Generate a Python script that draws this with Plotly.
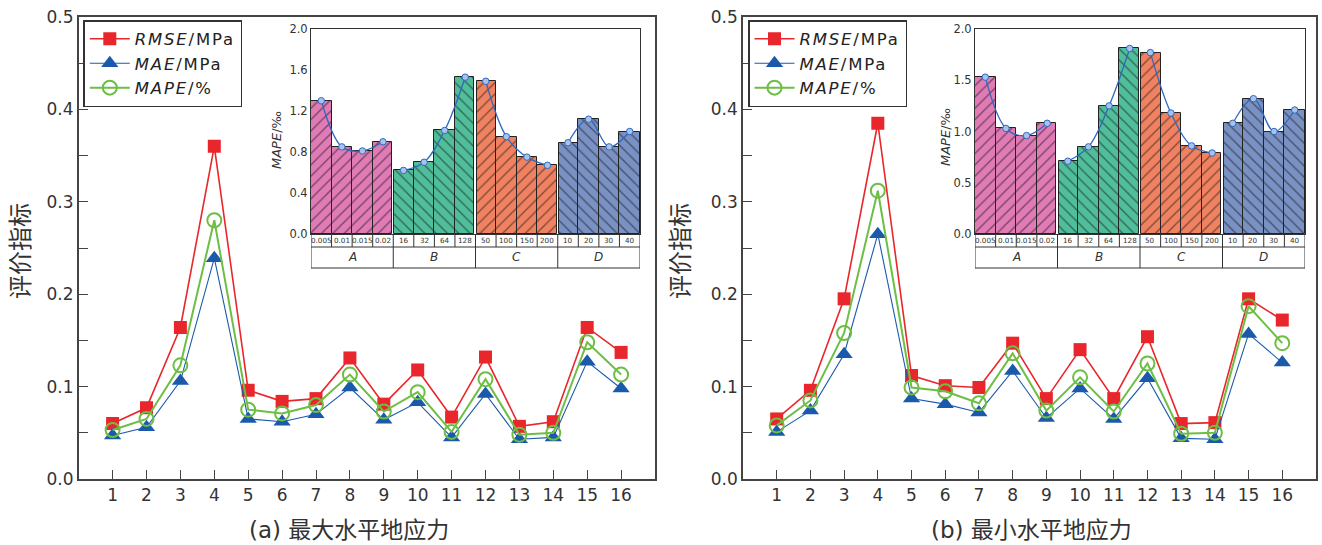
import plotly.graph_objects as go

# ---------------- data ----------------
x_idx = list(range(1, 17))

rmse_a = [0.060, 0.077, 0.164, 0.360, 0.096, 0.084, 0.087, 0.131, 0.081, 0.118, 0.067, 0.132, 0.057, 0.062, 0.164, 0.137]
mae_a  = [0.047, 0.056, 0.106, 0.239, 0.065, 0.062, 0.070, 0.099, 0.064, 0.083, 0.045, 0.092, 0.043, 0.045, 0.127, 0.098]
mape_a = [0.053, 0.065, 0.123, 0.280, 0.075, 0.071, 0.080, 0.113, 0.073, 0.094, 0.051, 0.108, 0.048, 0.050, 0.148, 0.113]

rmse_b = [0.065, 0.096, 0.195, 0.385, 0.112, 0.101, 0.099, 0.147, 0.087, 0.140, 0.087, 0.154, 0.060, 0.061, 0.195, 0.172]
mae_b  = [0.051, 0.074, 0.135, 0.265, 0.087, 0.081, 0.072, 0.117, 0.066, 0.098, 0.065, 0.109, 0.044, 0.043, 0.157, 0.126]
mape_b = [0.058, 0.085, 0.158, 0.312, 0.099, 0.095, 0.082, 0.136, 0.074, 0.110, 0.073, 0.125, 0.049, 0.050, 0.187, 0.147]

groups = ["A", "B", "C", "D"]
sub_labels = ["0.005", "0.01", "0.015", "0.02", "16", "32", "64", "128",
              "50", "100", "150", "200", "10", "20", "30", "40"]
inset_a = [1.30, 0.85, 0.81, 0.90, 0.62, 0.70, 1.01, 1.53, 1.49, 0.95, 0.75, 0.67, 0.89, 1.12, 0.85, 1.00]
inset_b = [1.53, 1.03, 0.96, 1.08, 0.71, 0.85, 1.25, 1.81, 1.77, 1.18, 0.86, 0.79, 1.08, 1.32, 1.00, 1.21]

series_names = ["<i>RMSE</i>/MPa", "<i>MAE</i>/MPa", "<i>MAPE</i>/%"]

group_colors = ["#E07BB6", "#50BE9B", "#F08262", "#7A91C3"]
group_hatch = ["/", "\\", "/", "\\"]

# ---------------- geometry ----------------
W, H = 1322, 545
def px(x): return x / W
def py(y): return 1 - y / H

FONT = "DejaVu Sans, Liberation Sans, Arial, sans-serif"
CJK = "DejaVu Sans, Noto Sans CJK SC, sans-serif"
AX = "#444444"
TXT = "#333333"

main_dom = {"a": (78.7, 655), "b": (743, 1316)}
main_y = (17, 479)
inset_dom = {"a": (311, 640), "b": (975, 1305)}
inset_y = (29, 234)
row1_bottom, row2_bottom = 247, 268

def spaced(t):
    return '<span style="letter-spacing:1.8px">%s</span>' % t

fig = go.Figure()

# ---------------- main line charts ----------------
panels = [("a", rmse_a, mae_a, mape_a, "x", "y", "legend"),
          ("b", rmse_b, mae_b, mape_b, "x2", "y2", "legend2")]
for key, r, m, p, xa, ya, lg in panels:
    fig.add_trace(go.Scatter(x=x_idx, y=r, xaxis=xa, yaxis=ya, legend=lg, mode="lines+markers",
                             name=spaced(series_names[0]),
                             line=dict(color="#E8262B", width=1.6),
                             marker=dict(symbol="square", size=13, color="#E8262B")))
    fig.add_trace(go.Scatter(x=x_idx, y=m, xaxis=xa, yaxis=ya, legend=lg, mode="lines+markers",
                             name=spaced(series_names[1]),
                             line=dict(color="#1B5AAB", width=1.1),
                             marker=dict(symbol="triangle-up", size=15, color="#1B5AAB")))
    fig.add_trace(go.Scatter(x=x_idx, y=p, xaxis=xa, yaxis=ya, legend=lg, mode="lines+markers",
                             name=spaced(series_names[2]),
                             line=dict(color="#6DBE45", width=2),
                             marker=dict(symbol="circle-open", size=14, color="#6DBE45",
                                         line=dict(width=2, color="#6DBE45"))))

# ---------------- insets ----------------
gap = 0.05
for key, vals, xa, ya in [("a", inset_a, "x3", "y3"), ("b", inset_b, "x4", "y4")]:
    for g in range(4):
        xs, ws, offs, ys = [], [], [], []
        for k in range(4):
            i = g * 4 + k
            left = i + (gap if (k == 0 and g > 0) else 0)
            right = i + 1 - (gap if (k == 3 and g < 3) else 0)
            xs.append(i + 0.5)
            offs.append(left - (i + 0.5))
            ws.append(right - left)
            ys.append(vals[i])
        fig.add_trace(go.Bar(x=xs, y=ys, width=ws, offset=offs, xaxis=xa, yaxis=ya,
                             showlegend=False,
                             marker=dict(color=group_colors[g],
                                         line=dict(color="#222222", width=1),
                                         pattern=dict(shape=group_hatch[g], fgcolor="#111111",
                                                      size=8, solidity=0.17))))
    lx, ly = [], []
    for g in range(4):
        for k in range(4):
            i = g * 4 + k
            lx.append(i + 0.5)
            ly.append(vals[i])
        lx.append(None)
        ly.append(None)
    fig.add_trace(go.Scatter(x=lx, y=ly, xaxis=xa, yaxis=ya, mode="lines+markers",
                             showlegend=False, connectgaps=False,
                             line=dict(color="#2F68BE", width=1.3, shape="spline", smoothing=1),
                             marker=dict(symbol="circle", size=6.5, color="#A9C2EA",
                                         line=dict(color="#2F68BE", width=1))))

# ---------------- layout ----------------
def main_x(dom, anchor):
    return dict(domain=[px(dom[0]), px(dom[1])], range=[0, 17], tickmode="array",
                tickvals=x_idx, ticktext=[str(v) for v in x_idx], anchor=anchor,
                ticks="inside", ticklen=9, tickwidth=1.3, tickcolor=AX,
                showline=True, linecolor=AX, linewidth=1.6, mirror=True,
                showgrid=False, zeroline=False, automargin=False,
                tickfont=dict(family=FONT, size=17, color=TXT))

def main_yax(anchor):
    return dict(domain=[py(main_y[1]), py(main_y[0])], range=[0, 0.5], dtick=0.1,
                tickformat=".1f", anchor=anchor,
                ticks="inside", ticklen=9, tickwidth=1.3, tickcolor=AX,
                minor=dict(dtick=0.05, ticks="inside", ticklen=9, tickwidth=1.3, tickcolor=AX),
                showline=True, linecolor=AX, linewidth=1.6, mirror=True,
                showgrid=False, zeroline=False, automargin=False,
                tickfont=dict(family=FONT, size=17, color=TXT))

def inset_x(dom, anchor):
    return dict(domain=[px(dom[0]), px(dom[1])], range=[0, 16], anchor=anchor,
                showticklabels=False, ticks="", showline=True, linecolor="#333",
                linewidth=1, mirror=True, showgrid=False, zeroline=False, automargin=False)

def inset_yax(anchor, dt):
    return dict(domain=[py(inset_y[1]), py(inset_y[0])], range=[0, 2.0], dtick=dt,
                tickformat=".1f", anchor=anchor, ticks="",
                showline=True, linecolor="#333", linewidth=1, mirror=True,
                showgrid=False, zeroline=False, automargin=False,
                tickfont=dict(family=FONT, size=11.5, color=TXT))

legend_common = dict(bgcolor="white", bordercolor="#333", borderwidth=1.5,
                     font=dict(family=FONT, size=16.5, color="#222"),
                     xanchor="left", yanchor="top", itemwidth=40,
                     tracegroupgap=0)

fig.update_layout(
    width=W, height=H, margin=dict(l=0, r=0, t=0, b=0, autoexpand=False),
    paper_bgcolor="white", plot_bgcolor="white",
    font=dict(family=FONT, color=TXT),
    bargap=0,
    xaxis=main_x(main_dom["a"], "y"), yaxis=main_yax("x"),
    xaxis2=main_x(main_dom["b"], "y2"), yaxis2=main_yax("x2"),
    xaxis3=inset_x(inset_dom["a"], "y3"), yaxis3=inset_yax("x3", 0.4),
    xaxis4=inset_x(inset_dom["b"], "y4"), yaxis4=inset_yax("x4", 0.5),
    legend=dict(x=px(83.3), y=py(20), **legend_common),
    legend2=dict(x=px(748), y=py(20), **legend_common),
)

shapes, annotations = [], []

# inset tables below the insets
for xa in ("x3", "x4"):
    line = dict(color="#333", width=1)
    for yy in (row1_bottom, row2_bottom):
        shapes.append(dict(type="line", xref=xa, yref="paper", x0=0, x1=16,
                           y0=py(yy), y1=py(yy), line=line))
    for i in range(17):
        shapes.append(dict(type="line", xref=xa, yref="paper", x0=i, x1=i,
                           y0=py(inset_y[1]), y1=py(row1_bottom), line=line))
    for i in range(0, 17, 4):
        shapes.append(dict(type="line", xref=xa, yref="paper", x0=i, x1=i,
                           y0=py(row1_bottom), y1=py(row2_bottom), line=line))
    for i, lab in enumerate(sub_labels):
        annotations.append(dict(x=i + 0.5, y=py((inset_y[1] + row1_bottom) / 2 + 0.5), xref=xa,
                                yref="paper", text=lab, showarrow=False,
                                font=dict(family=FONT, size=7.2, color=TXT)))
    for g, lab in enumerate(groups):
        annotations.append(dict(x=g * 4 + 2, y=py((row1_bottom + row2_bottom) / 2), xref=xa,
                                yref="paper", text="<i>%s</i>" % lab, showarrow=False,
                                font=dict(family=FONT, size=12, color=TXT)))

# axis titles
titles = [
    (21, 251, "评价指标", -90, 24, CJK),
    (681, 251, "评价指标", -90, 24, CJK),
    (348.5, 530, "(a) 最大水平地应力", 0, 23, CJK),
    (1031, 530, "(b) 最小水平地应力", 0, 23, CJK),
    (276, 140, "<i>MAPE</i>/‰", -90, 13, FONT),
    (946, 137, "<i>MAPE</i>/‰", -90, 13, FONT),
]
for x0, y0, t, ang, sz, fam in titles:
    annotations.append(dict(x=px(x0), y=py(y0), xref="paper", yref="paper", text=t,
                            textangle=ang, showarrow=False, xanchor="center", yanchor="middle",
                            font=dict(family=fam, size=sz, color=TXT)))

fig.update_layout(shapes=shapes, annotations=annotations)

fig.write_html("out.html", config={"displayModeBar": False},
               post_script="document.body.style.margin='0';")
